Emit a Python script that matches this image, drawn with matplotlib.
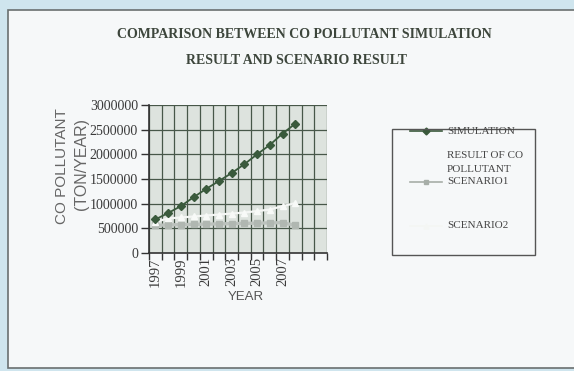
import matplotlib
matplotlib.use("Agg")
import matplotlib.pyplot as plt
from matplotlib.patches import Rectangle
from matplotlib.lines import Line2D
import numpy as np

# CO pollutant emissions (ton/year)
years = [1997, 1998, 1999, 2000, 2001, 2002, 2003, 2004, 2005, 2006, 2007, 2008]
simulation = [680000, 810000, 950000, 1130000, 1300000, 1460000, 1620000,
              1800000, 2000000, 2190000, 2420000, 2620000]
scenario1 = [560000, 570000, 575000, 580000, 585000, 590000, 595000,
             600000, 605000, 610000, 615000, 560000]
scenario2 = [630000, 700000, 720000, 740000, 760000, 780000, 800000,
             820000, 850000, 880000, 950000, 1010000]
n_slots = 14  # category slots on the axis (two trailing blanks)
tick_labels = ["1997", "1999", "2001", "2003", "2005", "2007"]
y_ticks = [0, 500000, 1000000, 1500000, 2000000, 2500000, 3000000]

W, H = 574, 371
fig = plt.figure(figsize=(W / 100, H / 100), dpi=100)
fig.patch.set_facecolor("#cfe5ee")

# white chart frame
frame = Rectangle((8 / W, 3 / H), 1.2, 358 / H, transform=fig.transFigure,
                  facecolor="#f6f8f9", edgecolor="#6a7070", linewidth=1.2, zorder=-5)
fig.patches.append(frame)

ax = fig.add_axes([149 / W, (H - 253) / H, 178 / W, 148 / H])
ax.set_zorder(2)
ax.set_facecolor("#dde3de")

x = np.arange(len(years))
grid_c = "#475749"
for xb in np.arange(-0.5, n_slots, 1.0):
    ax.axvline(xb, color=grid_c, lw=0.9, zorder=1)
for yv in y_ticks[1:]:
    ax.axhline(yv, color=grid_c, lw=0.9, zorder=1)

ax.plot(x, scenario1, color="#bcc2bd", lw=2.4, marker="s", ms=4,
        mfc="#b0b7b1", mec="#b0b7b1", zorder=3)
ax.plot(x, scenario2, color="#f4f6f4", lw=1.6, marker="^", ms=5,
        mfc="#f8faf8", mec="#f8faf8", zorder=3)
ax.plot(x, simulation, color="#3a5a3c", lw=1.3, marker="D", ms=4.5,
        mfc="#3a5a3c", mec="#3a5a3c", zorder=4)

ax.set_xlim(-0.5, n_slots - 0.5)
ax.set_ylim(0, 3000000)
ax.set_yticks(y_ticks)
ax.set_yticklabels([str(v) for v in y_ticks], family="Liberation Serif",
                   fontsize=10, color="#3a3a3a")
ax.set_xticks(np.arange(-0.5, n_slots, 1.0), minor=False)
ax.set_xticklabels([])
ax.set_xticks([years.index(int(t)) for t in tick_labels], minor=True)
ax.set_xticklabels(tick_labels, minor=True, rotation=90, family="Liberation Serif",
                   fontsize=10.5, color="#3a3a3a")
ax.tick_params(axis="x", which="major", length=5, color="#333", width=1)
ax.tick_params(axis="x", which="minor", length=0, pad=3)
ax.tick_params(axis="y", length=6, color="#333", width=1, pad=2)
for s in ["top", "right"]:
    ax.spines[s].set_visible(False)
for s in ["left", "bottom"]:
    ax.spines[s].set_color("#333")
    ax.spines[s].set_linewidth(1.2)

# titles and axis labels
tcol = "#3d463c"
fig.text(304 / W, 1 - 35 / H, "COMPARISON BETWEEN CO POLLUTANT SIMULATION",
         ha="center", va="center", family="Liberation Serif", weight="bold",
         fontsize=10, color=tcol)
fig.text(297 / W, 1 - 61 / H, "RESULT AND SCENARIO RESULT",
         ha="center", va="center", family="Liberation Serif", weight="bold",
         fontsize=10, color=tcol)
fig.text(62 / W, 1 - 166 / H, "CO POLLUTANT", rotation=90, ha="center", va="center",
         family="Liberation Sans", fontsize=11, color="#666")
fig.text(82 / W, 1 - 164 / H, "(TON/YEAR)", rotation=90, ha="center", va="center",
         family="Liberation Sans", fontsize=11.5, color="#666")
fig.text(246 / W, 1 - 297 / H, "YEAR", ha="center", va="center",
         family="Liberation Sans", fontsize=9.5, color="#555")

# legend box
fig.patches.append(Rectangle((392 / W, 1 - 255 / H), 143 / W, 126 / H,
                             transform=fig.transFigure, facecolor="none",
                             edgecolor="#555", linewidth=1.0, zorder=3))
lx = [410 / W, 426 / W, 442 / W]
fig.lines.append(Line2D(lx, [1 - 131 / H] * 3, color="#3a5a3c", lw=1.2,
                        marker="D", markevery=[1], ms=3.5, transform=fig.transFigure))
fig.lines.append(Line2D(lx, [1 - 182 / H] * 3, color="#a7aea8", lw=1.2,
                        marker="s", markevery=[1], ms=3.5, transform=fig.transFigure))
fig.lines.append(Line2D(lx, [1 - 226 / H] * 3, color="#f4f6f4", lw=1.2,
                        marker="^", markevery=[1], ms=3.5, transform=fig.transFigure))
lt = dict(family="Liberation Serif", fontsize=8, color="#444", ha="left", va="center")
fig.text(447 / W, 1 - 131 / H, "SIMULATION", **lt)
fig.text(447 / W, 1 - 155 / H, "RESULT OF CO", **lt)
fig.text(447 / W, 1 - 170 / H, "POLLUTANT", **lt)
fig.text(447 / W, 1 - 182 / H, "SCENARIO1", **lt)
fig.text(447 / W, 1 - 226 / H, "SCENARIO2", **lt)

fig.savefig("out.png", dpi=100, facecolor=fig.get_facecolor())
